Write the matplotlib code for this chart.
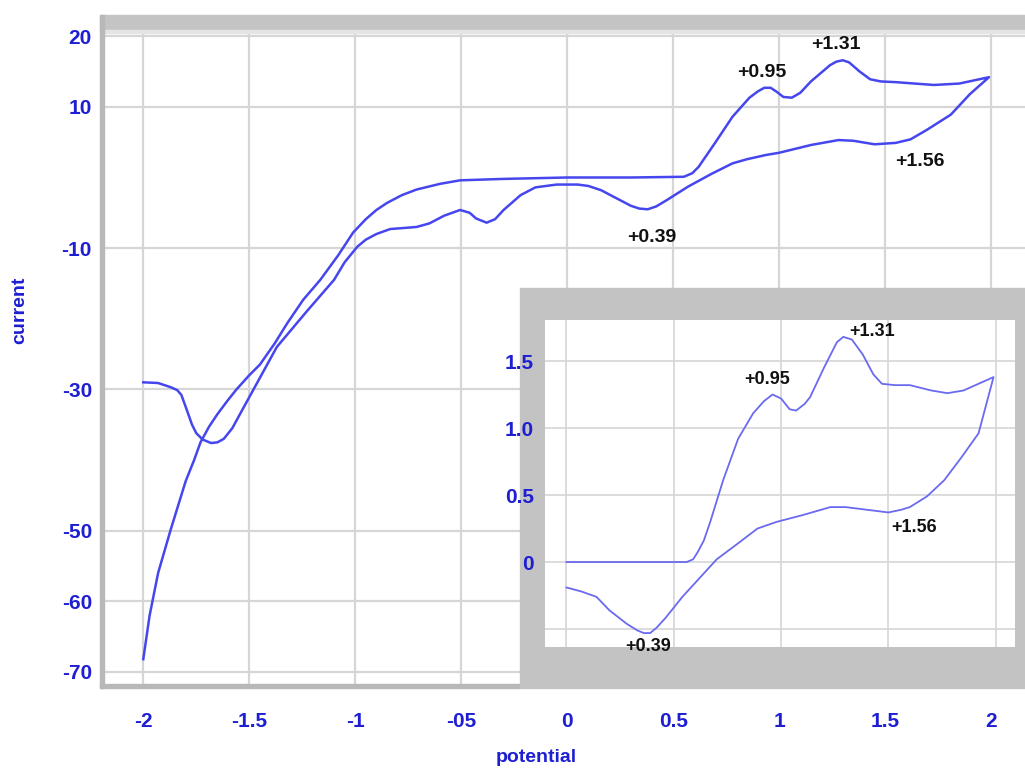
import matplotlib
matplotlib.use("Agg")
import matplotlib.pyplot as plt
from matplotlib.patches import Rectangle

# ---------------- data ----------------
main_fwd_x = [-2.00, -1.97, -1.93, -1.87, -1.80, -1.76, -1.73, -1.69, -1.65, -1.60, -1.56,
              -1.50, -1.45, -1.38, -1.32, -1.245, -1.165, -1.08, -1.01, -0.95, -0.90, -0.85,
              -0.78, -0.71, -0.60, -0.505, -0.30, 0.00, 0.30, 0.55, 0.59, 0.62, 0.70, 0.78,
              0.86, 0.90, 0.93, 0.96, 0.99, 1.02, 1.06, 1.10, 1.15, 1.24, 1.27, 1.30, 1.33,
              1.38, 1.43, 1.48, 1.55, 1.73, 1.85, 1.99]
main_fwd_y = [-68.2, -62.0, -56.0, -49.8, -43.0, -40.0, -37.5, -35.3, -33.5, -31.5, -30.0,
              -28.0, -26.5, -23.5, -20.6, -17.3, -14.5, -11.0, -7.8, -5.9, -4.6, -3.6,
              -2.5, -1.7, -0.9, -0.4, -0.2, 0.0, 0.0, 0.1, 0.6, 1.5, 5.0, 8.6,
              11.3, 12.2, 12.7, 12.7, 12.1, 11.4, 11.3, 12.0, 13.6, 15.9, 16.4, 16.6, 16.3,
              15.0, 13.9, 13.6, 13.5, 13.1, 13.3, 14.2]

main_rev_x = [1.99, 1.90, 1.81, 1.70, 1.62, 1.55, 1.45, 1.35, 1.28, 1.15, 1.00, 0.94, 0.85,
              0.78, 0.68, 0.57, 0.47, 0.42, 0.38, 0.34, 0.30, 0.23, 0.16, 0.10, 0.05, -0.05,
              -0.15, -0.22, -0.30, -0.34, -0.38, -0.43, -0.46, -0.505, -0.58, -0.65, -0.71,
              -0.75, -0.835, -0.90, -0.95, -0.99, -1.05, -1.10, -1.23, -1.37, -1.54, -1.58,
              -1.62, -1.65, -1.68, -1.72, -1.75, -1.77, -1.79, -1.82, -1.84, -1.87, -1.93, -2.00]
main_rev_y = [14.2, 11.8, 8.9, 6.8, 5.4, 4.9, 4.7, 5.2, 5.3, 4.6, 3.5, 3.2, 2.6,
              2.0, 0.5, -1.3, -3.2, -4.1, -4.5, -4.4, -4.0, -2.9, -1.8, -1.2, -1.0, -1.0,
              -1.4, -2.5, -4.6, -5.9, -6.4, -5.8, -5.0, -4.6, -5.4, -6.5, -7.0,
              -7.1, -7.3, -8.0, -8.8, -9.8, -12.0, -14.5, -19.0, -24.0, -33.3, -35.5,
              -37.0, -37.5, -37.6, -37.1, -36.2, -35.0, -33.3, -30.8, -30.1, -29.7, -29.1, -29.0]

ins_fwd_x = [0.00, 0.20, 0.40, 0.56, 0.59, 0.61, 0.64, 0.67, 0.73, 0.80, 0.87, 0.92, 0.96,
             1.00, 1.04, 1.07, 1.11, 1.135, 1.20, 1.26, 1.29, 1.33, 1.38, 1.43, 1.47, 1.53,
             1.60, 1.70, 1.775, 1.85, 1.92, 1.99]
ins_fwd_y = [0.00, 0.00, 0.00, 0.00, 0.02, 0.07, 0.16, 0.30, 0.61, 0.92, 1.11, 1.20, 1.25,
             1.22, 1.14, 1.13, 1.18, 1.23, 1.45, 1.64, 1.68, 1.66, 1.55, 1.40, 1.33, 1.32,
             1.32, 1.28, 1.26, 1.28, 1.33, 1.38]
ins_rev_x = [1.99, 1.96, 1.92, 1.84, 1.76, 1.68, 1.60, 1.56, 1.50, 1.40, 1.30, 1.23, 1.10,
             0.98, 0.89, 0.80, 0.70, 0.62, 0.54, 0.46, 0.42, 0.39, 0.36, 0.33, 0.28, 0.20,
             0.14, 0.07, 0.00]
ins_rev_y = [1.38, 1.20, 0.96, 0.78, 0.61, 0.49, 0.41, 0.39, 0.37, 0.39, 0.41, 0.41, 0.35,
             0.30, 0.25, 0.14, 0.02, -0.12, -0.26, -0.42, -0.49, -0.53, -0.53, -0.51, -0.46,
             -0.36, -0.26, -0.22, -0.19]

main_xticks = [-2, -1.5, -1, -0.5, 0, 0.5, 1, 1.5, 2]
main_xticklabels = ["-2", "-1.5", "-1", "-05", "0", "0.5", "1", "1.5", "2"]
main_yticks = [20, 10, -10, -30, -50, -60, -70]
main_yticklabels = ["20", "10", "-10", "-30", "-50", "-60", "-70"]

ins_xticks = [0, 0.5, 1, 1.5, 2]
ins_yticks = [-0.5, 0, 0.5, 1.0, 1.5]
ins_yticklabels = ["", "0", "0.5", "1.0", "1.5"]

main_ann_text = ["+0.95", "+1.31", "+1.56", "+0.39"]
main_ann_x = [0.92, 1.27, 1.665, 0.40]
main_ann_y = [14.9, 18.8, 2.2, -8.5]
ins_ann_text = ["+0.95", "+1.31", "+1.56", "+0.39"]
ins_ann_x = [0.935, 1.425, 1.62, 0.38]
ins_ann_y = [1.36, 1.72, 0.26, -0.63]

# ---------------- style ----------------
W, H = 1025, 771
BLUE = "#1e1ed2"
LINE = "#4646ee"
GRID = "#d6d6d6"
FRAME = "#b8b8b8"
SANS = ["Liberation Sans", "DejaVu Sans"]

fig = plt.figure(figsize=(W / 100, H / 100), dpi=100)
fig.patch.set_facecolor("white")

def fx(px):
    return px / W

def fy(py):
    return 1 - py / H

# main axes
L, R, T, B = 103, 1025, 32, 686
ax = fig.add_axes([fx(L), fy(B), fx(R - L), fy(T) - fy(B)])
ax.set_xlim(-2.19, 2.16)
ax.set_ylim(-72.0, 20.6)
for s in ax.spines.values():
    s.set_visible(False)
ax.grid(True, color=GRID, linewidth=1.6)
ax.set_axisbelow(True)
ax.set_xticks(main_xticks)
ax.set_xticklabels(main_xticklabels)
ax.set_yticks(main_yticks)
ax.set_yticklabels(main_yticklabels)
ax.tick_params(length=0, labelcolor=BLUE, labelsize=15)
ax.tick_params(axis="x", pad=19)
ax.tick_params(axis="y", pad=8)
for lab in ax.get_xticklabels() + ax.get_yticklabels():
    lab.set_fontweight("bold")
    lab.set_family(SANS)

ax.plot(main_fwd_x + main_rev_x, main_fwd_y + main_rev_y, color=LINE, linewidth=1.8,
        solid_joinstyle="round")
for t, x, y in zip(main_ann_text, main_ann_x, main_ann_y):
    ax.text(x, y, t, ha="center", va="center", fontsize=14, fontweight="bold",
            family=SANS, color="#111111")

# frame decorations
fig.patches.append(Rectangle((fx(100), fy(30)), fx(1025 - 100), fy(15) - fy(30),
                             transform=fig.transFigure, color="#c4c4c4", zorder=1))
fig.patches.append(Rectangle((fx(103), fy(33)), fx(1025 - 103), fy(30) - fy(33),
                             transform=fig.transFigure, color="#e4e4e4", zorder=1))
fig.patches.append(Rectangle((fx(100), fy(688)), fx(4), fy(15) - fy(688),
                             transform=fig.transFigure, color=FRAME, zorder=1))
fig.patches.append(Rectangle((fx(100), fy(688)), fx(420), fy(684) - fy(688),
                             transform=fig.transFigure, color=FRAME, zorder=1))

# inset gray box
fig.patches.append(Rectangle((fx(520), fy(688)), fx(1025 - 520), fy(288) - fy(688),
                             transform=fig.transFigure, color="#c3c3c3", zorder=1))

# inset axes
iL, iR, iT, iB = 545, 1015, 320, 647
ins = fig.add_axes([fx(iL), fy(iB), fx(iR - iL), fy(iT) - fy(iB)], zorder=3)
ins.set_facecolor("white")
ins.set_xlim(-0.10, 2.09)
ins.set_ylim(-0.634, 1.806)
for s in ins.spines.values():
    s.set_visible(False)
ins.grid(True, color=GRID, linewidth=1.2)
ins.set_axisbelow(True)
ins.set_xticks(ins_xticks)
ins.set_xticklabels([])
ins.set_yticks(ins_yticks)
ins.set_yticklabels(ins_yticklabels)
ins.tick_params(length=0, labelcolor=BLUE, labelsize=15, pad=8)
for lab in ins.get_yticklabels():
    lab.set_fontweight("bold")
    lab.set_family(SANS)
ins.plot(ins_fwd_x + ins_rev_x, ins_fwd_y + ins_rev_y, color="#6a6af0", linewidth=1.3,
         solid_joinstyle="round")
for t, x, y in zip(ins_ann_text, ins_ann_x, ins_ann_y):
    ins.text(x, y, t, ha="center", va="center", fontsize=13, fontweight="bold",
             family=SANS, color="#111111", clip_on=False)

# axis titles
fig.text(fx(20), fy(310), "current", rotation=90, ha="center", va="center",
         color=BLUE, fontsize=14, fontweight="bold", family=SANS)
fig.text(fx(536), fy(758), "potential", ha="center", va="center",
         color=BLUE, fontsize=14, fontweight="bold", family=SANS)

fig.savefig("out.png", dpi=100)
